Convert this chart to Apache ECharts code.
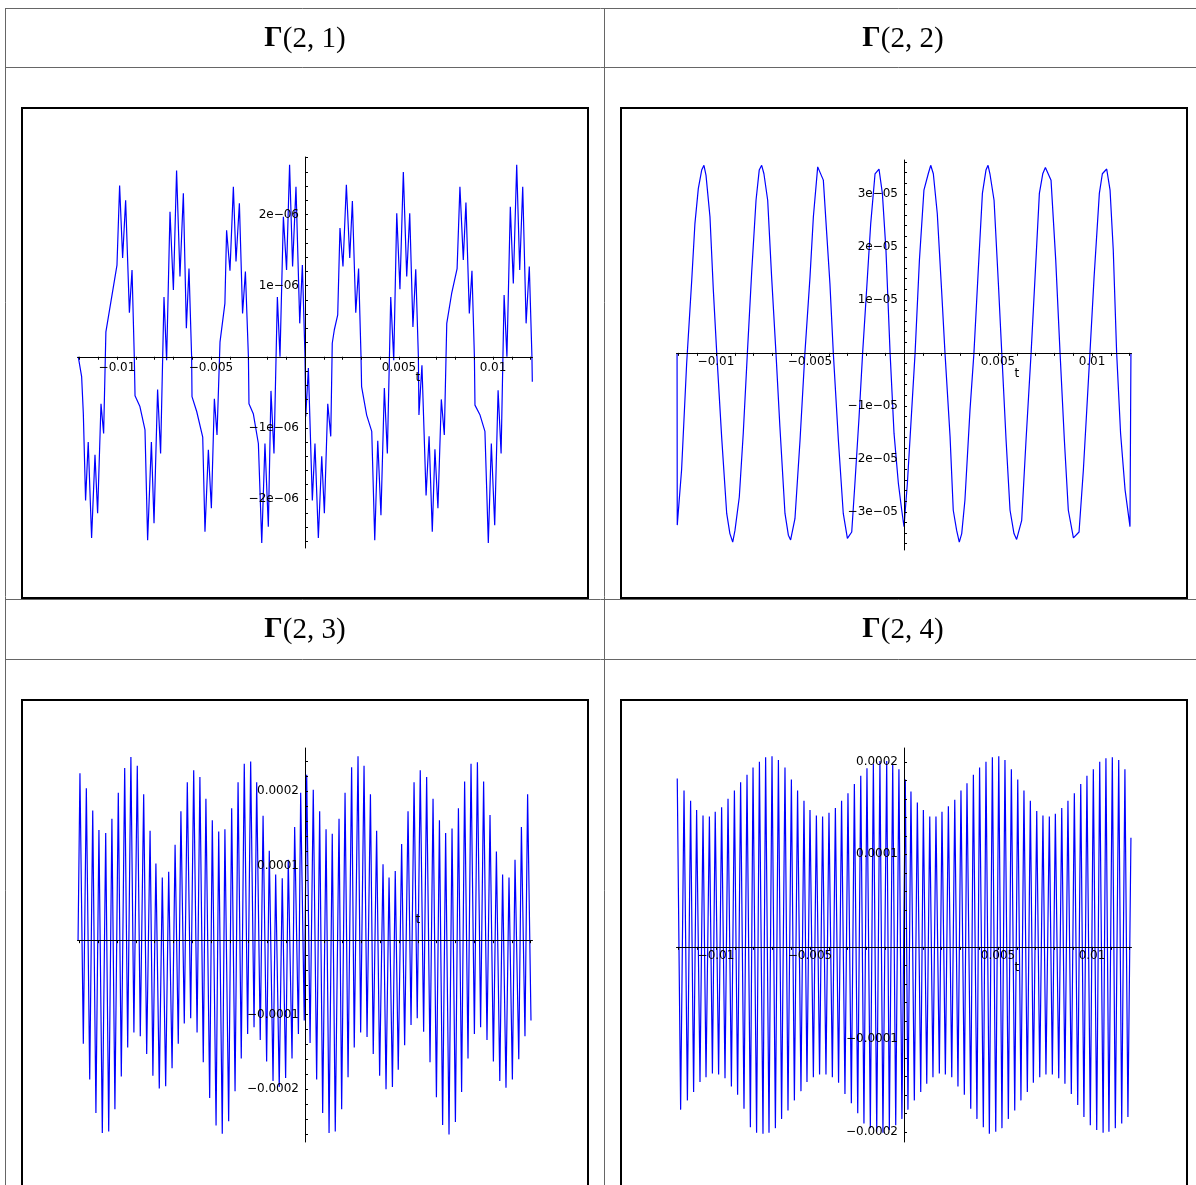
<!DOCTYPE html>
<html>
<head>
<meta charset="utf-8">
<script src="https://cdn.jsdelivr.net/npm/echarts@6/dist/echarts.min.js"></script>
<style>
html,body{margin:0;padding:0;background:#fff;}
#c{width:1196px;height:1185px;}
</style>
</head>
<body>
<div id="c"></div>
<script>
// ---------------- DATA (t in ms) ----------------
const panelTitles = ['(2, 1)', '(2, 2)', '(2, 3)', '(2, 4)'];

// Γ(2,1): values in 1e-6
const p1 = [[-12.06,0],[-11.88,-0.28],[-11.79,-0.80],[-11.67,-2.02],[-11.53,-1.20],[-11.35,-2.55],[-11.17,-1.38],[-11.03,-2.20],[-10.85,-0.66],[-10.71,-1.08],[-10.59,0.35],[-10.00,1.29],[-9.86,2.41],[-9.70,1.39],[-9.54,2.20],[-9.34,0.62],[-9.20,1.22],[-9.08,0],[-9.04,-0.55],[-8.78,-0.70],[-8.51,-1.03],[-8.37,-2.58],[-8.17,-1.20],[-8.03,-2.34],[-7.84,-0.46],[-7.68,-1.36],[-7.50,0.84],[-7.36,-0.05],[-7.18,2.04],[-7.00,0.94],[-6.83,2.62],[-6.65,1.13],[-6.47,2.30],[-6.31,0.40],[-6.17,1.24],[-6.03,0],[-6.01,-0.56],[-5.76,-0.77],[-5.44,-1.13],[-5.32,-2.46],[-5.14,-1.31],[-4.98,-2.13],[-4.82,-0.59],[-4.68,-1.10],[-4.52,0.21],[-4.26,0.75],[-4.17,1.78],[-3.99,1.21],[-3.81,2.39],[-3.67,1.34],[-3.49,2.16],[-3.32,0.61],[-3.17,1.20],[-3.01,0],[-2.98,-0.66],[-2.75,-0.80],[-2.48,-1.22],[-2.30,-2.62],[-2.13,-1.22],[-1.95,-2.39],[-1.81,-0.48],[-1.65,-1.36],[-1.47,0.84],[-1.33,0],[-1.15,1.97],[-0.98,1.22],[-0.82,2.70],[-0.66,1.27],[-0.48,2.39],[-0.28,0.47],[-0.14,1.29],[0.00,0],
[0.04,-0.84],[0.18,-0.16],[0.39,-2.02],[0.53,-1.22],[0.71,-2.55],[0.89,-1.40],[1.03,-2.20],[1.21,-0.66],[1.37,-1.12],[1.45,0.19],[1.56,0.38],[1.74,0.59],[1.86,1.81],[2.02,1.27],[2.20,2.42],[2.38,1.39],[2.52,2.19],[2.70,0.62],[2.85,1.24],[2.98,0],[3.01,-0.42],[3.28,-0.82],[3.55,-1.05],[3.71,-2.58],[3.87,-1.18],[4.04,-2.23],[4.22,-0.44],[4.38,-1.36],[4.56,0.84],[4.72,-0.05],[4.88,2.02],[5.05,0.95],[5.23,2.60],[5.41,1.13],[5.57,2.02],[5.74,0.42],[5.89,1.23],[6.03,0],[6.06,-0.82],[6.22,-0.12],[6.44,-1.95],[6.60,-1.12],[6.77,-2.46],[6.91,-1.30],[7.07,-2.13],[7.25,-0.60],[7.41,-1.10],[7.54,0.47],[7.80,0.89],[8.09,1.24],[8.24,2.39],[8.42,1.36],[8.56,2.17],[8.74,0.61],[8.88,1.21],[9.01,0],[9.04,-0.68],[9.31,-0.82],[9.57,-1.05],[9.75,-2.62],[9.91,-1.22],[10.09,-2.37],[10.27,-0.47],[10.43,-1.36],[10.59,0.87],[10.74,0],[10.92,2.11],[11.08,1.03],[11.26,2.70],[11.42,1.22],[11.58,2.39],[11.76,0.47],[11.93,1.27],[12.07,0],[12.09,-0.35]];

// Γ(2,2): values in 1e-5
const p2 = [[-12.07,0],[-12.06,-3.25],[-11.83,-2.21],[-11.56,-0.20],[-11.29,1.37],[-11.12,2.44],[-10.94,3.10],[-10.76,3.45],[-10.64,3.54],[-10.53,3.35],[-10.32,2.57],[-10.14,1.18],[-9.96,0],[-9.70,-1.58],[-9.43,-3.03],[-9.26,-3.41],[-9.11,-3.57],[-8.99,-3.35],[-8.76,-2.72],[-8.55,-1.52],[-8.33,0],[-8.10,1.53],[-7.87,2.88],[-7.70,3.45],[-7.57,3.54],[-7.45,3.38],[-7.25,2.88],[-7.04,1.43],[-6.81,0],[-6.60,-1.40],[-6.33,-3.03],[-6.15,-3.44],[-6.03,-3.53],[-5.80,-3.13],[-5.53,-1.65],[-5.27,0],[-5.00,1.43],[-4.82,2.57],[-4.59,3.51],[-4.29,3.26],[-4.11,2.25],[-3.94,1.31],[-3.76,0],[-3.49,-1.65],[-3.23,-3.03],[-3.01,-3.50],[-2.78,-3.38],[-2.61,-2.46],[-2.39,-1.21],[-2.20,0],[-1.99,1.18],[-1.77,2.44],[-1.54,3.38],[-1.33,3.47],[-1.15,3.01],[-0.96,1.94],[-0.74,0],[-0.53,-1.52],[-0.30,-2.46],[-0.12,-2.97],[0.0,-3.28],
[0.18,-2.46],[0.41,-1.08],[0.59,0],[0.82,1.75],[1.06,3.07],[1.29,3.38],[1.42,3.54],[1.56,3.38],[1.77,2.63],[2.00,1.18],[2.18,0],[2.45,-1.58],[2.62,-2.97],[2.80,-3.35],[2.94,-3.57],[3.07,-3.41],[3.24,-2.78],[3.51,-1.08],[3.72,0],[3.95,1.56],[4.17,3.01],[4.36,3.45],[4.47,3.54],[4.57,3.38],[4.79,2.88],[5.02,1.31],[5.20,0],[5.43,-1.65],[5.64,-2.97],[5.85,-3.41],[5.99,-3.52],[6.26,-3.16],[6.49,-1.65],[6.76,0],[6.97,1.43],[7.20,3.01],[7.38,3.38],[7.52,3.50],[7.82,3.26],[8.07,1.75],[8.30,0],[8.53,-1.65],[8.74,-2.97],[9.01,-3.49],[9.31,-3.38],[9.54,-2.21],[9.72,-1.08],[9.89,0],[10.11,1.43],[10.39,3.01],[10.55,3.38],[10.78,3.47],[10.96,3.07],[11.13,1.94],[11.31,0],[11.52,-1.52],[11.76,-2.59],[12.02,-3.28],[12.07,0]];

// Γ(2,3): values in 1e-4 (alternating peaks / troughs)
const p3 = [[-12.07,0],
[-11.97,2.24],[-11.79,-1.39],[-11.63,2.04],[-11.45,-1.87],[-11.29,1.74],[-11.12,-2.32],[-10.96,1.48],[-10.78,-2.59],[-10.60,1.44],[-10.44,-2.57],[-10.27,1.63],[-10.11,-2.27],[-9.93,1.98],[-9.77,-1.83],[-9.59,2.31],[-9.43,-1.44],[-9.26,2.46],[-9.10,-1.24],[-8.92,2.34],[-8.76,-1.29],[-8.58,1.96],[-8.42,-1.53],[-8.24,1.47],[-8.09,-1.82],[-7.93,1.03],[-7.75,-1.99],[-7.59,0.84],[-7.41,-1.96],[-7.25,0.92],[-7.07,-1.72],[-6.91,1.28],[-6.74,-1.39],[-6.60,1.73],[-6.42,-1.12],[-6.26,2.12],[-6.08,-1.05],[-5.92,2.28],[-5.74,-1.24],[-5.59,2.19],[-5.41,-1.64],[-5.27,1.90],[-5.07,-2.12],[-4.93,1.61],[-4.73,-2.49],[-4.59,1.46],[-4.40,-2.60],[-4.26,1.49],[-4.06,-2.43],[-3.90,1.77],[-3.72,-2.03],[-3.56,2.12],[-3.39,-1.59],[-3.23,2.37],[-3.05,-1.26],[-2.89,2.40],[-2.71,-1.17],[-2.57,2.12],[-2.38,-1.34],[-2.23,1.67],[-2.04,-1.63],[-1.90,1.20],[-1.70,-1.89],[-1.56,0.88],[-1.37,-1.97],[-1.21,0.83],[-1.03,-1.85],[-0.89,1.08],[-0.69,-1.59],[-0.55,1.52],[-0.35,-1.26],[-0.23,1.98],[-0.04,-1.08],
[0.09,2.22],[0.27,-1.38],[0.44,2.02],[0.62,-1.87],[0.78,1.73],[0.94,-2.32],[1.12,1.49],[1.28,-2.59],[1.45,1.43],[1.61,-2.57],[1.81,1.63],[1.95,-2.27],[2.13,1.98],[2.29,-1.84],[2.48,2.32],[2.62,-1.44],[2.82,2.47],[2.96,-1.24],[3.14,2.34],[3.30,-1.30],[3.48,1.96],[3.63,-1.53],[3.81,1.47],[3.97,-1.82],[4.15,1.02],[4.31,-2.00],[4.47,0.84],[4.65,-1.97],[4.80,0.93],[4.96,-1.74],[5.14,1.29],[5.30,-1.41],[5.48,1.73],[5.64,-1.14],[5.80,2.12],[5.97,-1.05],[6.13,2.28],[6.31,-1.23],[6.47,2.19],[6.65,-1.64],[6.81,1.90],[6.99,-2.11],[7.15,1.61],[7.32,-2.48],[7.48,1.44],[7.66,-2.61],[7.82,1.50],[8.00,-2.44],[8.16,1.77],[8.33,-2.04],[8.49,2.13],[8.67,-1.59],[8.83,2.37],[9.01,-1.26],[9.17,2.39],[9.34,-1.17],[9.50,2.13],[9.68,-1.34],[9.84,1.68],[10.02,-1.63],[10.18,1.19],[10.36,-1.89],[10.51,0.88],[10.69,-1.98],[10.85,0.84],[11.03,-1.87],[11.17,1.08],[11.37,-1.60],[11.51,1.52],[11.70,-1.29],[11.84,1.96],[12.02,-1.08]];

// Γ(2,4): values in 1e-4 (alternating peaks / troughs)
const p4 = [[-12.06,1.82],[-11.88,-1.76],[-11.70,1.69],[-11.52,-1.66],[-11.35,1.58],[-11.19,-1.57],[-11.03,1.48],[-10.85,-1.46],[-10.69,1.42],[-10.53,-1.41],[-10.35,1.41],[-10.19,-1.37],[-10.04,1.46],[-9.86,-1.38],[-9.70,1.51],[-9.52,-1.42],[-9.36,1.60],[-9.18,-1.51],[-9.02,1.69],[-8.85,-1.60],[-8.69,1.78],[-8.51,-1.75],[-8.35,1.86],[-8.17,-1.95],[-8.03,1.94],[-7.84,-2.01],[-7.69,2.00],[-7.50,-2.02],[-7.36,2.05],[-7.18,-2.01],[-7.02,2.06],[-6.84,-1.96],[-6.68,2.02],[-6.51,-1.86],[-6.33,1.94],[-6.17,-1.77],[-5.99,1.81],[-5.83,-1.66],[-5.66,1.69],[-5.48,-1.56],[-5.32,1.58],[-5.16,-1.46],[-5.00,1.48],[-4.82,-1.41],[-4.66,1.42],[-4.49,-1.38],[-4.33,1.41],[-4.15,-1.38],[-3.99,1.45],[-3.81,-1.41],[-3.65,1.50],[-3.48,-1.47],[-3.32,1.58],[-3.14,-1.59],[-2.98,1.66],[-2.80,-1.69],[-2.64,1.76],[-2.46,-1.80],[-2.30,1.85],[-2.13,-1.91],[-1.97,1.93],[-1.79,-1.96],[-1.63,1.98],[-1.45,-2.00],[-1.28,2.01],[-1.12,-2.01],[-0.92,2.01],[-0.78,-1.98],[-0.60,1.98],[-0.44,-1.93],[-0.27,1.92],[-0.11,-1.86],
[0.07,1.81],[0.21,-1.76],[0.37,1.68],[0.55,-1.66],[0.71,1.56],[0.89,-1.57],[1.03,1.48],[1.21,-1.48],[1.37,1.41],[1.54,-1.41],[1.70,1.41],[1.88,-1.37],[2.02,1.46],[2.20,-1.38],[2.36,1.52],[2.54,-1.41],[2.70,1.59],[2.87,-1.51],[3.03,1.69],[3.21,-1.60],[3.35,1.77],[3.55,-1.75],[3.69,1.86],[3.88,-1.86],[4.02,1.94],[4.22,-1.95],[4.36,2.00],[4.54,-2.02],[4.70,2.05],[4.88,-2.00],[5.04,2.06],[5.21,-1.96],[5.37,2.02],[5.55,-1.86],[5.71,1.92],[5.89,-1.77],[6.05,1.81],[6.22,-1.66],[6.38,1.69],[6.56,-1.57],[6.72,1.58],[6.88,-1.47],[7.06,1.47],[7.22,-1.41],[7.39,1.42],[7.55,-1.38],[7.73,1.41],[7.89,-1.38],[8.05,1.44],[8.23,-1.42],[8.39,1.50],[8.56,-1.48],[8.72,1.58],[8.90,-1.59],[9.06,1.66],[9.24,-1.71],[9.40,1.76],[9.57,-1.84],[9.73,1.85],[9.91,-1.93],[10.07,1.92],[10.25,-1.98],[10.41,2.00],[10.59,-2.01],[10.74,2.04],[10.90,-2.00],[11.08,2.05],[11.24,-1.96],[11.42,2.02],[11.58,-1.91],[11.75,1.92],[11.91,-1.84],[12.07,1.18]];

// tick labels
const xLabelVals = [-0.01, -0.005, 0.005, 0.01];
const xLabelText = ['\u22120.01', '\u22120.005', '0.005', '0.01'];
const y1LabelVals = [-2e-6, -1e-6, 1e-6, 2e-6];
const y1LabelText = ['\u22122e\u221206', '\u22121e\u221206', '1e\u221206', '2e\u221206'];
const y2LabelVals = [-3e-5, -2e-5, -1e-5, 1e-5, 2e-5, 3e-5];
const y2LabelText = ['\u22123e\u221205', '\u22122e\u221205', '\u22121e\u221205', '1e\u221205', '2e\u221205', '3e\u221205'];
const y34LabelVals = [-2e-4, -1e-4, 1e-4, 2e-4];
const y34LabelText = ['\u22120.0002', '\u22120.0001', '0.0001', '0.0002'];
const axisName = 't';

// ---------------- LAYOUT ----------------
const scales = [1e-6, 1e-5, 1e-4, 1e-4];
const yRanges = [[-2.69e-6, 2.81e-6], [-3.72e-5, 3.64e-5], [-2.71e-4, 2.58e-4], [-2.11e-4, 2.15e-4]];
const yMinor = [2e-7, 2e-6, 2e-5, 2e-5];
const xRange = [-0.0121, 0.0121];
const grids = [
  {left: 77.5, top: 157, width: 455, height: 391},
  {left: 676.5, top: 160, width: 455, height: 390},
  {left: 77.5, top: 748, width: 455, height: 394},
  {left: 676.5, top: 748, width: 455, height: 394}
];
const yLabVals = [y1LabelVals, y2LabelVals, y34LabelVals, y34LabelVals];
const yLabTxt = [y1LabelText, y2LabelText, y34LabelText, y34LabelText];
const showX = [true, true, false, true];
const xLabGap = [5, 3, 3, 3];
const tAbove = [false, false, true, false];

function ticks(min, max, step) {
  const out = [];
  for (let k = Math.ceil(min / step - 1e-9); k <= Math.floor(max / step + 1e-9); k++) out.push(+(k * step).toPrecision(10));
  return out;
}
const FONT = 'DejaVu Sans';
const FSIZE = 12;

const xAxes = [], yAxes = [], series = [];
const datasets = [p1, p2, p3, p4];
for (let i = 0; i < 4; i++) {
  xAxes.push({
    type: 'value', gridIndex: i, min: xRange[0], max: xRange[1], z: 10,
    axisLine: {show: true, onZero: true, lineStyle: {color: '#000', width: 1}},
    axisTick: {show: true, inside: false, length: 3, customValues: ticks(xRange[0], xRange[1], 0.001), lineStyle: {color: '#000', width: 1}},
    axisLabel: {show: false},
    splitLine: {show: false}
  });
  yAxes.push({
    type: 'value', gridIndex: i, min: yRanges[i][0], max: yRanges[i][1], z: 10,
    axisLine: {show: true, onZero: true, lineStyle: {color: '#000', width: 1}},
    axisTick: {show: true, inside: true, length: 3, customValues: ticks(yRanges[i][0], yRanges[i][1], yMinor[i]), lineStyle: {color: '#000', width: 1}},
    axisLabel: {show: false},
    splitLine: {show: false}
  });
  series.push({
    type: 'line', xAxisIndex: i, yAxisIndex: i, showSymbol: false, symbol: 'none', animation: false,
    lineStyle: {color: '#0000ff', width: 1.2}, z: 2,
    data: datasets[i].map(d => [d[0] * 1e-3, d[1] * scales[i]])
  });
}

// table frame and plot boxes
const base = [];
function hline(y, x1, x2) { base.push({type: 'line', silent: true, shape: {x1: x1, y1: y, x2: x2, y2: y}, style: {stroke: '#666', lineWidth: 1}}); }
function vline(x, y1, y2) { base.push({type: 'line', silent: true, shape: {x1: x, y1: y1, x2: x, y2: y2}, style: {stroke: '#666', lineWidth: 1}}); }
hline(8.5, 5, 1196); hline(67.5, 5, 1196); hline(599.5, 5, 1196); hline(659.5, 5, 1196);
vline(5.5, 8, 1185); vline(604.5, 8, 1185);
const boxes = [[22, 108, 566, 490], [621, 108, 566, 490], [22, 700, 566, 600], [621, 700, 566, 600]];
boxes.forEach(b => base.push({type: 'rect', silent: true, shape: {x: b[0], y: b[1], width: b[2], height: b[3]}, style: {fill: null, stroke: '#000', lineWidth: 2}}));
const heads = [[305, 39], [903, 39], [305, 630], [903, 630]];
heads.forEach((h, i) => base.push({
  type: 'text', silent: true, x: h[0], y: h[1],
  style: {
    text: '{g|\u0393}{r|' + panelTitles[i] + '}', align: 'center', verticalAlign: 'middle',
    rich: {
      g: {fontFamily: 'Liberation Serif', fontWeight: 'bold', fontSize: 29, fill: '#000'},
      r: {fontFamily: 'Liberation Serif', fontSize: 29, fill: '#000'}
    }
  }
}));

const chart = echarts.init(document.getElementById('c'), null, {renderer: 'canvas'});
const option = {
  animation: false,
  backgroundColor: '#fff',
  grid: grids.map(g => Object.assign({containLabel: false}, g)),
  xAxis: xAxes, yAxis: yAxes, series: series,
  graphic: base
};
chart.setOption(option);

// tick labels and axis name placed at the axes crossing at the origin
const extra = [];
function txt(x, y, s, align, va) {
  extra.push({type: 'text', silent: true, z: 20, x: x, y: y,
    style: {text: s, align: align, verticalAlign: va, fontFamily: FONT, fontSize: FSIZE, fill: '#000'}});
}
for (let i = 0; i < 4; i++) {
  const o = chart.convertToPixel({gridIndex: i}, [0, 0]);
  if (showX[i]) {
    xLabelVals.forEach((v, k) => {
      const p = chart.convertToPixel({gridIndex: i}, [v, 0]);
      txt(p[0], o[1] + xLabGap[i], xLabelText[k], 'center', 'top');
    });
  }
  yLabVals[i].forEach((v, k) => {
    const p = chart.convertToPixel({gridIndex: i}, [0, v]);
    txt(o[0] - 6, p[1], yLabTxt[i][k], 'right', 'middle');
  });
  const pt = chart.convertToPixel({gridIndex: i}, [0.006, 0]);
  txt(pt[0], pt[1] + (tAbove[i] ? -20 : 21), axisName, 'center', 'middle');
}
chart.setOption({graphic: base.concat(extra)});
</script>
</body>
</html>
